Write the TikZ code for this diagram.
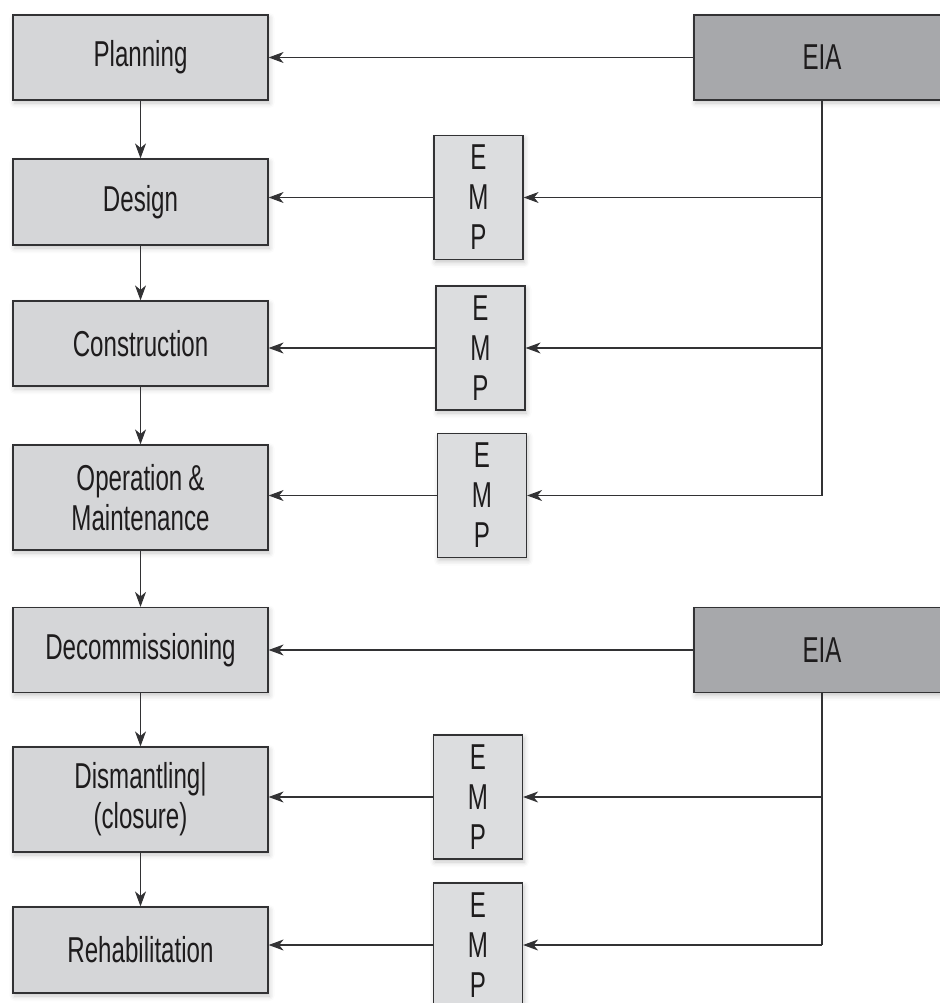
\documentclass[tikz,border=0pt]{standalone}
\usepackage{fontspec}
\setmainfont{Liberation Sans}[FakeStretch=0.67]
\usetikzlibrary{arrows.meta,shadows.blur}
\definecolor{stagegray}{RGB}{213,214,216}
\definecolor{empgray}{RGB}{220,221,223}
\definecolor{eiagray}{RGB}{167,168,171}
\definecolor{edgegray}{RGB}{50,50,52}
\definecolor{textgray}{RGB}{30,28,29}
\tikzset{
	boxbase/.style={draw=edgegray, line width=1.2pt, inner sep=0pt, align=center, text=textgray,
		font=\fontsize{36}{40}\selectfont,
		blur shadow={shadow xshift=1.5pt, shadow yshift=-3pt, shadow blur radius=5pt, shadow opacity=22}},
	stage/.style={boxbase, fill=stagegray, minimum width=255pt, text width=245pt},
	empbox/.style={boxbase, fill=empgray, minimum width=89pt, minimum height=124pt},
	eiabox/.style={boxbase, fill=eiagray, minimum width=256pt, minimum height=85pt},
	wire/.style={draw=edgegray, line width=1.1pt},
	link/.style={wire, -{Stealth[length=15pt,width=11pt,inset=4.5pt]}}
}
\begin{document}
\begin{tikzpicture}[x=1pt, y=-1pt]
			%%%%% START %%%%%
			\useasboundingbox (0, 0) rectangle (939, 1003);
			
			% life cycle stages
			\node[stage, minimum height=85pt] (planning) at (140.5, 57.5) {Planning};
			\node[stage, minimum height=86pt] (design) at (140.5, 202) {Design};
			\node[stage, minimum height=85pt] (construction) at (140.5, 343.5) {Construction};
			\node[stage, minimum height=105pt] (operation) at (140.5, 497.5) {Operation\,\&\\Maintenance};
			\node[stage, minimum height=85pt] (decommission) at (140.5, 650) {Decommissioning};
			\node[stage, minimum height=105pt] (dismantling) at (140.5, 799.5) {Dismantling|\\(closure)};
			\node[stage, minimum height=86pt] (rehab) at (140.5, 950) {Rehabilitation};
			
			% assessments
			\node[eiabox] (eiaA) at (822, 57.5) {EIA};
			\node[eiabox] (eiaB) at (822, 650) {EIA};
			
			% management plans
			\node[empbox] (empA) at (478.5, 197.5) {E\\M\\P};
			\node[empbox] (empB) at (480.5, 348) {E\\M\\P};
			\node[empbox] (empC) at (482, 495.5) {E\\M\\P};
			\node[empbox] (empD) at (478, 797) {E\\M\\P};
			\node[empbox] (empE) at (478, 945) {E\\M\\P};
			
			% stage sequence
			\draw[link] (planning) -- (design);
			\draw[link] (design) -- (construction);
			\draw[link] (construction) -- (operation);
			\draw[link] (operation) -- (decommission);
			\draw[link] (decommission) -- (dismantling);
			\draw[link] (dismantling) -- (rehab);
			
			% EIA to stages
			\draw[link] (eiaA) -- (planning);
			\draw[link] (eiaB) -- (decommission);
			
			% EIA trunks to EMPs
			\draw[wire] (eiaA.south) -- (eiaA.south |- empC.east);
			\foreach \emp in {empA, empB, empC}
				\draw[link] (eiaA.south |- \emp.east) -- (\emp.east);
			\draw[wire] (eiaB.south) -- (eiaB.south |- empE.east);
			\foreach \emp in {empD, empE}
				\draw[link] (eiaB.south |- \emp.east) -- (\emp.east);
			
			% EMPs to stages
			\draw[link] (empA.west) -- (empA.west -| design.east);
			\draw[link] (empB.west) -- (empB.west -| construction.east);
			\draw[link] (empC.west) -- (empC.west -| operation.east);
			\draw[link] (empD.west) -- (empD.west -| dismantling.east);
			\draw[link] (empE.west) -- (empE.west -| rehab.east);
			%%%%% END %%%%%
\end{tikzpicture}
\end{document}
